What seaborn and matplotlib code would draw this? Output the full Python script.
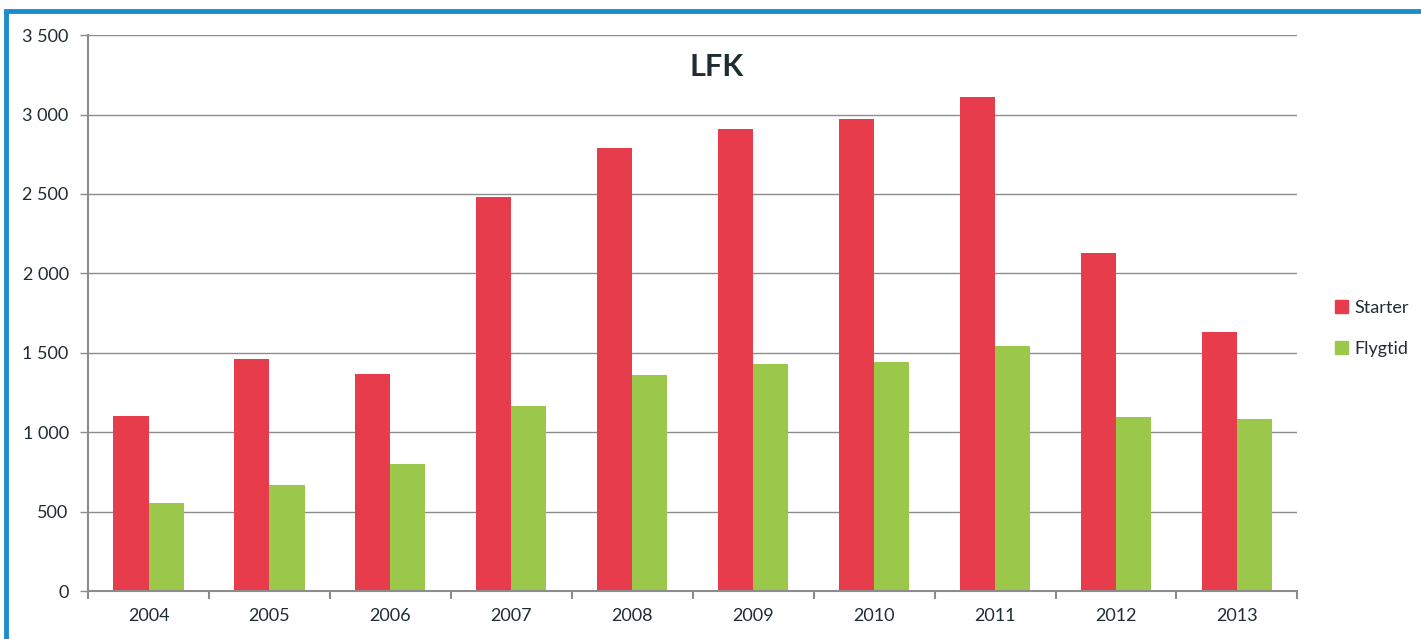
import pandas as pd
import matplotlib.pyplot as plt
import matplotlib.patches as mpatches
from matplotlib.ticker import FuncFormatter, FixedLocator
import seaborn as sns

sns.set_style("white")
plt.rcParams['font.family'] = ['Lato', 'DejaVu Sans']

# Data
years = ['2004', '2005', '2006', '2007', '2008', '2009', '2010', '2011', '2012', '2013']
starter = [1101, 1460, 1366, 2480, 2789, 2908, 2971, 3110, 2128, 1630]
flygtid = [554, 667, 800, 1165, 1360, 1429, 1442, 1542, 1095, 1083]
series = ['Starter', 'Flygtid']
colors = ['#E63C4B', '#9BC84B']

df = pd.DataFrame({
    'year': years * 2,
    'value': starter + flygtid,
    'serie': [series[0]] * len(years) + [series[1]] * len(years),
})

fig = plt.figure(figsize=(14.21, 6.39), dpi=100)
ax = fig.add_axes([0.062, 0.075, 0.851, 0.870])

sns.barplot(data=df, x='year', y='value', hue='serie', palette=colors,
            width=0.58, saturation=1, linewidth=0, ax=ax, legend=False)

ax.set_ylim(0, 3500)
ax.set_xlim(-0.5, len(years) - 0.5)
ax.set_yticks(range(0, 3501, 500))
ax.yaxis.set_major_formatter(FuncFormatter(lambda v, p: f"{int(v):,}".replace(',', ' ')))
ax.yaxis.grid(True, color='#8c8c8c', linewidth=1)
ax.set_axisbelow(True)
ax.set_xlabel('')
ax.set_ylabel('')

for s in ['top', 'right']:
    ax.spines[s].set_visible(False)
for s in ['left', 'bottom']:
    ax.spines[s].set_color('#8c8c8c')
    ax.spines[s].set_linewidth(1.5)

ax.tick_params(axis='y', left=True, length=6, width=1, color='#8c8c8c',
               labelsize=13, labelcolor='#1f2d33', pad=8)
ax.tick_params(axis='x', bottom=True, length=0, labelsize=13, labelcolor='#1f2d33', pad=12)
ax.xaxis.set_minor_locator(FixedLocator([i - 0.5 for i in range(len(years) + 1)]))
ax.tick_params(axis='x', which='minor', bottom=True, length=6, color='#8c8c8c', width=1.5)

ax.text(0.52, 0.968, 'LFK', transform=ax.transAxes, ha='center', va='top',
        fontsize=22, fontweight='bold', color='#1f2d33')

handles = [mpatches.Patch(color=c, label=l) for c, l in zip(colors, series)]
fig.legend(handles=handles, loc='center left', bbox_to_anchor=(0.928, 0.486),
           frameon=False, fontsize=13, handlelength=0.7, handleheight=0.7,
           handletextpad=0.4, labelspacing=1.4, labelcolor='#1f2d33')

# blue frame (left and top edges visible)
fig.patches.append(mpatches.Rectangle((0.0045, -0.05), 1.2, 1.033, transform=fig.transFigure,
                                      fill=False, edgecolor='#1C8CD0', linewidth=3.5))

plt.savefig('out.png', dpi=100)
plt.close()
